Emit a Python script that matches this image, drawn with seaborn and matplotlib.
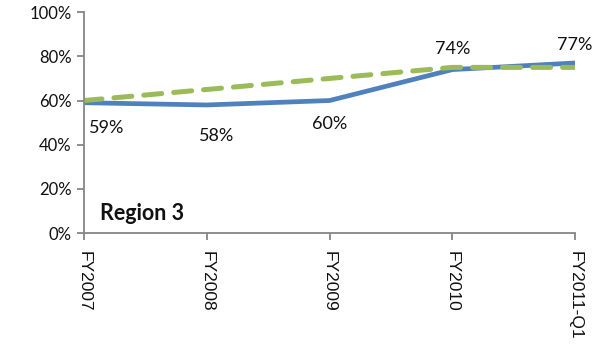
import numpy as np
import pandas as pd
import matplotlib
matplotlib.use("Agg")
import matplotlib.pyplot as plt
import seaborn as sns

# chart data
periods = ["FY2007", "FY2008", "FY2009", "FY2010", "FY2011-Q1"]
actual = [0.59, 0.58, 0.60, 0.74, 0.77]
target = [0.60, 0.65, 0.70, 0.75, 0.75]
actual_labels = ["59%", "58%", "60%", "74%", "77%"]

# label offsets in points (placement only)
label_offsets = [(16, -18), (7, -22), (0, -17), (0, 15), (0, 13)]

sns.set_theme(style="white")
plt.rcParams['font.family'] = ['Lato', 'DejaVu Sans']

df = pd.DataFrame({"period": periods, "actual": actual, "target": target})
xpos = np.arange(len(periods))

fig = plt.figure(figsize=(5.96, 3.57), dpi=100)
ax = fig.add_axes([0.141, 0.347, 0.824, 0.619])

sns.lineplot(x=xpos, y=df["actual"], ax=ax, color="#4F81BD", linewidth=3.4,
             solid_capstyle="butt")
sns.lineplot(x=xpos, y=df["target"], ax=ax, color="#9BBB59", linewidth=3.6)
dl = ax.lines[-1]
dl.set_dashes((3.6, 2.4))
dl.set_dash_capstyle("round")

for i, (v, lab) in enumerate(zip(actual, actual_labels)):
    ax.annotate(lab, xy=(i, v), xytext=label_offsets[i], textcoords="offset points",
                ha="center", va="center", fontsize=13, color="#111111")

ax.set_xlim(0, len(periods) - 1)
ax.set_ylim(0, 1)
ax.set_yticks(np.arange(0, 1.01, 0.2))
ax.set_yticklabels([f"{int(round(t*100))}%" for t in np.arange(0, 1.01, 0.2)],
                   fontsize=12, color="#111111")
ax.set_xticks(xpos)
ax.set_xticklabels(periods, rotation=270, fontsize=12.5, color="#111111",
                   family=["Liberation Sans", "DejaVu Sans"], va="top", ha="center")
ax.set_xlabel("")
ax.set_ylabel("")

for side in ["top", "right"]:
    ax.spines[side].set_visible(False)
for side in ["left", "bottom"]:
    ax.spines[side].set_color("#868686")
    ax.spines[side].set_linewidth(1.3)
ax.tick_params(axis="both", which="both", direction="out", length=5, width=1.3,
               color="#868686", left=True, bottom=True)
ax.tick_params(axis="x", pad=8)
ax.tick_params(axis="y", pad=4)

ax.text(0.033, 0.09, "Region 3", transform=ax.transAxes, fontsize=15.5,
        fontweight="bold", color="#111111", ha="left", va="center")

fig.savefig("out.png", dpi=100)
